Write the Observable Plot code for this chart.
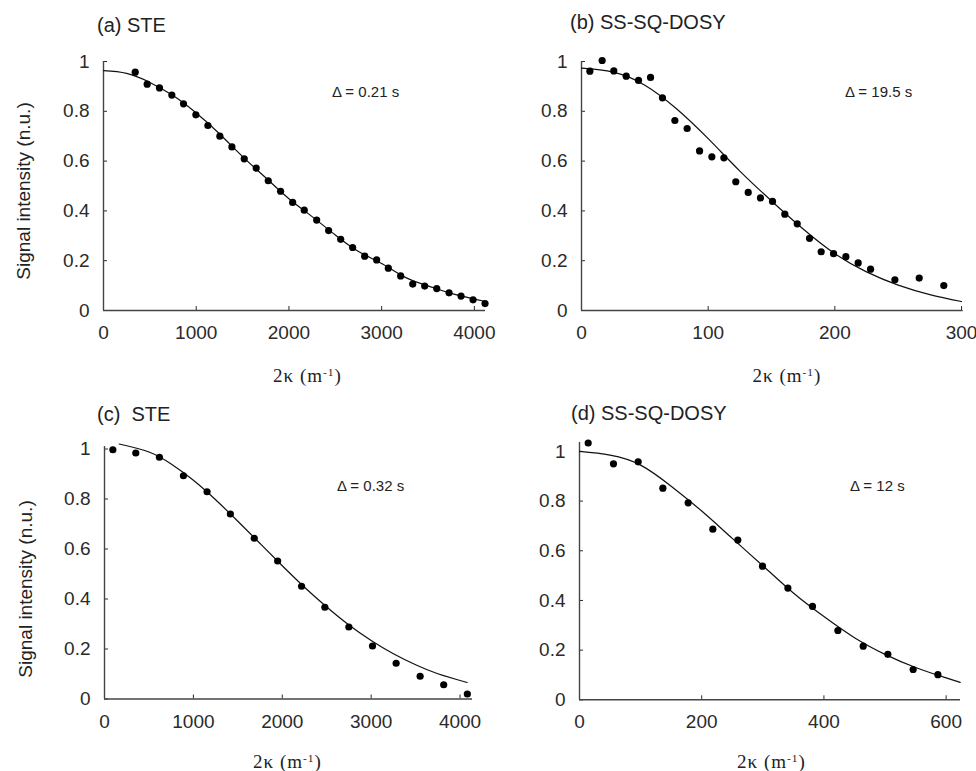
<!DOCTYPE html>
<html><head><meta charset="utf-8">
<script src="https://cdn.jsdelivr.net/npm/d3@7"></script>
<script src="https://cdn.jsdelivr.net/npm/@observablehq/plot@0.6"></script>
<style>
body{margin:0;background:#fff;}
#fig{position:relative;width:976px;height:771px;overflow:hidden;font-family:"Liberation Sans",Arial,sans-serif;color:#222;background:#fff}
.t{position:absolute;white-space:pre;line-height:1}
.p{position:absolute}
sup{font-size:60%;vertical-align:0.55em;line-height:0}
</style></head><body><div id="fig"></div>
<script>
// ---------- data ----------
const titles = ["(a) STE", "(b) SS-SQ-DOSY", "(c)  STE", "(d) SS-SQ-DOSY"];
const deltas = ["\u0394 = 0.21 s", "\u0394 = 19.5 s", "\u0394 = 0.32 s", "\u0394 = 12 s"];
const yTicks = [0, 0.2, 0.4, 0.6, 0.8, 1];
const xTicksA = [0, 1000, 2000, 3000, 4000];
const xTicksB = [0, 100, 200, 300];
const xTicksC = [0, 1000, 2000, 3000, 4000];
const xTicksD = [0, 200, 400, 600];

const aX = [342,471,604,737,863,996,1126,1255,1385,1518,1647,1777,1910,2040,2165,2299,2428,2558,2687,2817,2946,3072,3205,3335,3464,3594,3727,3856,3986,4115];
const aY = [0.957,0.909,0.894,0.865,0.830,0.786,0.743,0.700,0.657,0.609,0.572,0.521,0.479,0.434,0.403,0.363,0.321,0.286,0.253,0.218,0.203,0.170,0.139,0.106,0.098,0.088,0.071,0.058,0.043,0.028];
const aFitX = [0,250,500,750,1000,1250,1500,1750,2000,2250,2500,2750,3000,3250,3500,3750,4000,4120];
const aFitY = [0.963,0.952,0.916,0.863,0.793,0.710,0.618,0.533,0.449,0.377,0.303,0.237,0.189,0.134,0.099,0.069,0.046,0.036];

const bX = [6.6,16.3,25.5,35.3,45,54.5,63.9,73.7,83.4,93.2,102.9,112.4,121.8,131.6,141.3,150.8,160.5,170.3,180,189.2,199,208.7,218.4,228.2,247.4,266.6,286];
const bY = [0.961,1.004,0.962,0.941,0.924,0.936,0.854,0.763,0.731,0.641,0.617,0.613,0.517,0.474,0.452,0.438,0.387,0.348,0.290,0.236,0.228,0.216,0.191,0.166,0.123,0.130,0.100];
const bFitX = [0,25,50,75,100,125,150,175,200,225,250,275,300];
const bFitY = [0.973,0.957,0.905,0.810,0.690,0.560,0.440,0.327,0.228,0.155,0.102,0.064,0.036];

const cX = [94,352,618,888,1154,1416,1685,1948,2217,2479,2749,3015,3281,3551,3816,4082];
const cY = [0.997,0.984,0.967,0.893,0.829,0.740,0.643,0.552,0.451,0.367,0.288,0.212,0.143,0.091,0.057,0.020];
const cFitX = [165,500,750,1000,1250,1500,1750,2000,2250,2500,2750,3000,3250,3500,3750,4080];
const cFitY = [1.020,0.988,0.940,0.875,0.797,0.711,0.622,0.533,0.447,0.368,0.296,0.234,0.181,0.137,0.101,0.066];

const dX = [14.2,55.6,96,136.4,177.8,218.2,259.1,299.5,341,381.3,422.8,464.3,504.6,546,586.5];
const dY = [1.034,0.950,0.958,0.852,0.793,0.687,0.643,0.538,0.450,0.376,0.279,0.216,0.183,0.122,0.101];
const dFitX = [0,50,100,150,200,250,300,350,400,450,500,550,600,623];
const dFitY = [1.000,0.985,0.945,0.860,0.760,0.650,0.540,0.430,0.335,0.250,0.183,0.130,0.088,0.070];

const xLabel = "2\u03ba (m<sup>-1</sup>)";
const yLabel = "Signal intensity (n.u.)";

// ---------- layout ----------
const fig = document.getElementById("fig");
const ML = 62, MR = 15, MT = 12, MB = 35;
const zip = (xs, ys) => xs.map((x, i) => ({x, y: ys[i]}));

const panels = [
  {left: 103, top: 61, w: 382, h: 249, xd: [0, 4120], yd: [0, 1], xt: xTicksA, pts: zip(aX, aY), fit: zip(aFitX, aFitY)},
  {left: 581.3, top: 61, w: 381.7, h: 249, xd: [0, 301.3], yd: [0, 1], xt: xTicksB, pts: zip(bX, bY), fit: zip(bFitX, bFitY)},
  {left: 103.7, top: 445.8, w: 368, h: 252.5, xd: [0, 4140], yd: [0, 1.01], xt: xTicksC, pts: zip(cX, cY), fit: zip(cFitX, cFitY)},
  {left: 578.7, top: 441.7, w: 381, h: 257.3, xd: [0, 623.5], yd: [0, 1.036], xt: xTicksD, pts: zip(dX, dY), fit: zip(dFitX, dFitY)}
];

panels.forEach(p => {
  const svg = Plot.plot({
    width: ML + p.w + MR,
    height: MT + p.h + MB,
    marginLeft: ML, marginRight: MR, marginTop: MT, marginBottom: MB,
    style: {fontFamily: '"Liberation Sans", Arial, sans-serif', fontSize: "19px", color: "#222", background: "transparent", overflow: "visible"},
    x: {domain: p.xd},
    y: {domain: p.yd},
    marks: [
      Plot.axisX({ticks: p.xt, label: null, tickSize: -4, tickPadding: 19, tickFormat: d => String(d), color: "#2a2a2a", fontSize: 19}),
      Plot.axisY({ticks: yTicks, label: null, tickSize: -4, tickPadding: 18, tickFormat: d3.format("~g"), color: "#2a2a2a", fontSize: 19}),
      Plot.ruleX([0], {stroke: "#444", strokeWidth: 1.4}),
      Plot.ruleY([0], {stroke: "#444", strokeWidth: 1.4}),
      Plot.line(p.fit, {x: "x", y: "y", curve: "natural", stroke: "#111", strokeWidth: 1.2}),
      Plot.dot(p.pts, {x: "x", y: "y", r: 3.6, fill: "#000", stroke: "none"})
    ]
  });
  svg.classList.add("p");
  svg.style.left = (p.left - ML) + "px";
  svg.style.top = (p.top - MT) + "px";
  fig.appendChild(svg);
});

function addText(txt, {left, baseline, size, serif = false, center = false, html = false, spacing = 0}) {
  const d = document.createElement("div");
  d.className = "t";
  if (html) d.innerHTML = txt; else d.textContent = txt;
  d.style.fontSize = size + "px";
  if (spacing) d.style.letterSpacing = spacing + "px";
  if (serif) d.style.fontFamily = '"Liberation Serif", "Times New Roman", serif';
  const k = serif ? 0.8375 : 0.8465;
  d.style.top = (baseline - k * size) + "px";
  d.style.left = left + "px";
  if (center) d.style.transform = "translateX(-50%)";
  fig.appendChild(d);
}

// titles
addText(titles[0], {left: 97, baseline: 32, size: 20});
addText(titles[1], {left: 570, baseline: 28.5, size: 20});
addText(titles[2], {left: 97, baseline: 421, size: 20});
addText(titles[3], {left: 571, baseline: 420, size: 20});
// delta annotations
addText(deltas[0], {left: 332, baseline: 97, size: 15});
addText(deltas[1], {left: 845, baseline: 97, size: 15});
addText(deltas[2], {left: 337, baseline: 491, size: 15});
addText(deltas[3], {left: 850, baseline: 491, size: 15});
// x labels
addText(xLabel, {left: 307.5, baseline: 382, size: 19, serif: true, center: true, html: true, spacing: 1});
addText(xLabel, {left: 787, baseline: 382, size: 19, serif: true, center: true, html: true, spacing: 1});
addText(xLabel, {left: 287.5, baseline: 768, size: 19, serif: true, center: true, html: true, spacing: 1});
addText(xLabel, {left: 771.5, baseline: 768, size: 19, serif: true, center: true, html: true, spacing: 1});
// y labels
[[23, 191], [24.5, 589]].forEach(([cx, cy]) => {
  const d = document.createElement("div");
  d.className = "t";
  d.textContent = yLabel;
  d.style.fontSize = "19px";
  d.style.left = cx + "px";
  d.style.top = cy + "px";
  d.style.transform = "translate(-50%,-50%) rotate(-90deg)";
  fig.appendChild(d);
});
</script>
</body></html>
